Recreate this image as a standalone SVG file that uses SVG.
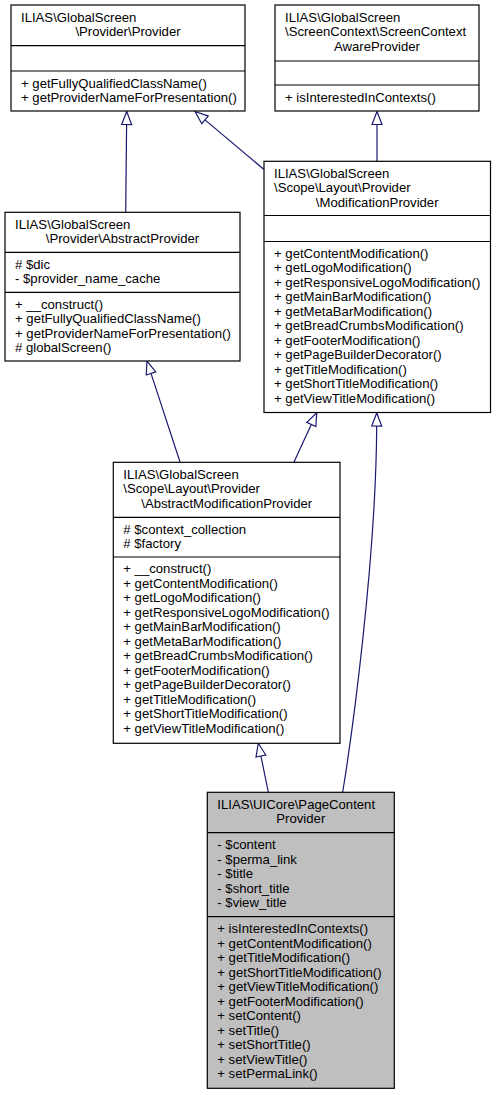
<svg xmlns="http://www.w3.org/2000/svg" width="496" height="1095" viewBox="0 0 496 1095">
<style>
.box{fill:#ffffff;stroke:#000000;stroke-width:1.2}
.cur{fill:#bfbfbf}
.sep{stroke:#000000;stroke-width:1.2}
text{font-family:"Liberation Sans",Arial,Helvetica,sans-serif;font-size:13.15px;fill:#000000}
.c{text-anchor:middle}
.edge{fill:none;stroke:#191970;stroke-width:1.2;marker-end:url(#tri)}
</style>
<defs>
<marker id="tri" markerUnits="userSpaceOnUse" markerWidth="16" markerHeight="14" refX="1" refY="6" orient="auto" viewBox="0 0 16 12">
<path d="M1,1 L14,6 L1,11 Z" fill="#ffffff" stroke="#191970" stroke-width="1.2"/>
</marker>
</defs>
<rect width="496" height="1095" fill="#ffffff"/>
<g id="connectors">
<path class="edge" d="M125.7,212.3 L126.6,124.5"/>
<path class="edge" d="M264,169.5 L205,119.9"/>
<path class="edge" d="M377,161 L377,124.5"/>
<path class="edge" d="M180,462 L151,373.4"/>
<path class="edge" d="M294,462 L311.3,424.5"/>
<path class="edge" d="M342.7,792 C352,735 376,560 376.7,426"/>
<path class="edge" d="M268.3,792 L260.9,756"/>
</g>
<g id="node-provider">
<rect class="box" x="11" y="5" width="234" height="106"/>
<line class="sep" x1="11" y1="45.7" x2="245" y2="45.7"/>
<line class="sep" x1="11" y1="71" x2="245" y2="71"/>
<text x="21" y="21.7">ILIAS\GlobalScreen</text>
<text class="c" x="128" y="36.2">\Provider\Provider</text>
<text x="21" y="87.5">+ getFullyQualifiedClassName()</text>
<text x="21" y="102">+ getProviderNameForPresentation()</text>
</g>
<g id="node-screencontextawareprovider">
<rect class="box" x="275" y="5" width="204" height="106"/>
<line class="sep" x1="275" y1="61" x2="479" y2="61"/>
<line class="sep" x1="275" y1="85" x2="479" y2="85"/>
<text x="285" y="21.7">ILIAS\GlobalScreen</text>
<text x="285" y="36.2">\ScreenContext\ScreenContext</text>
<text class="c" x="377" y="50.7">AwareProvider</text>
<text x="285" y="101.7">+ isInterestedInContexts()</text>
</g>
<g id="node-abstractprovider">
<rect class="box" x="5" y="212.3" width="235" height="148.7"/>
<line class="sep" x1="5" y1="252.3" x2="240" y2="252.3"/>
<line class="sep" x1="5" y1="292.3" x2="240" y2="292.3"/>
<text x="15" y="228.7">ILIAS\GlobalScreen</text>
<text class="c" x="122.5" y="243.2">\Provider\AbstractProvider</text>
<text x="15" y="268.6">#  $dic</text>
<text x="15" y="283.1">- $provider_name_cache</text>
<text x="15" y="308.6">+ __construct()</text>
<text x="15" y="323.1">+ getFullyQualifiedClassName()</text>
<text x="15" y="337.6">+ getProviderNameForPresentation()</text>
<text x="15" y="352.1">#  globalScreen()</text>
</g>
<g id="node-modificationprovider">
<rect class="box" x="264" y="161.3" width="226.5" height="251.2"/>
<line class="sep" x1="264" y1="215.5" x2="490.5" y2="215.5"/>
<line class="sep" x1="264" y1="241.5" x2="490.5" y2="241.5"/>
<text x="274" y="177.6">ILIAS\GlobalScreen</text>
<text x="274" y="192.1">\Scope\Layout\Provider</text>
<text class="c" x="377.2" y="206.6">\ModificationProvider</text>
<text x="274" y="257.8">+ getContentModification()</text>
<text x="274" y="272.3">+ getLogoModification()</text>
<text x="274" y="286.8">+ getResponsiveLogoModification()</text>
<text x="274" y="301.3">+ getMainBarModification()</text>
<text x="274" y="315.8">+ getMetaBarModification()</text>
<text x="274" y="330.3">+ getBreadCrumbsModification()</text>
<text x="274" y="344.8">+ getFooterModification()</text>
<text x="274" y="359.3">+ getPageBuilderDecorator()</text>
<text x="274" y="373.8">+ getTitleModification()</text>
<text x="274" y="388.3">+ getShortTitleModification()</text>
<text x="274" y="402.8">+ getViewTitleModification()</text>
</g>
<g id="node-abstractmodificationprovider">
<rect class="box" x="113.3" y="462.3" width="226.7" height="281"/>
<line class="sep" x1="113.3" y1="517.3" x2="340" y2="517.3"/>
<line class="sep" x1="113.3" y1="557" x2="340" y2="557"/>
<text x="123.3" y="478.6">ILIAS\GlobalScreen</text>
<text x="123.3" y="493.1">\Scope\Layout\Provider</text>
<text class="c" x="226.7" y="507.6">\AbstractModificationProvider</text>
<text x="123.3" y="533.6">#  $context_collection</text>
<text x="123.3" y="548.1">#  $factory</text>
<text x="123.3" y="573.3">+ __construct()</text>
<text x="123.3" y="587.8">+ getContentModification()</text>
<text x="123.3" y="602.3">+ getLogoModification()</text>
<text x="123.3" y="616.8">+ getResponsiveLogoModification()</text>
<text x="123.3" y="631.3">+ getMainBarModification()</text>
<text x="123.3" y="645.8">+ getMetaBarModification()</text>
<text x="123.3" y="660.3">+ getBreadCrumbsModification()</text>
<text x="123.3" y="674.8">+ getFooterModification()</text>
<text x="123.3" y="689.3">+ getPageBuilderDecorator()</text>
<text x="123.3" y="703.8">+ getTitleModification()</text>
<text x="123.3" y="718.3">+ getShortTitleModification()</text>
<text x="123.3" y="732.8">+ getViewTitleModification()</text>
</g>
<g id="node-pagecontentprovider">
<rect class="box cur" x="207.3" y="792.3" width="187" height="296"/>
<line class="sep" x1="207.3" y1="832.7" x2="394.3" y2="832.7"/>
<line class="sep" x1="207.3" y1="916.7" x2="394.3" y2="916.7"/>
<text x="217.3" y="808.6">ILIAS\UICore\PageContent</text>
<text class="c" x="300.8" y="823.1">Provider</text>
<text x="217.3" y="849">- $content</text>
<text x="217.3" y="863.5">- $perma_link</text>
<text x="217.3" y="878">- $title</text>
<text x="217.3" y="892.5">- $short_title</text>
<text x="217.3" y="907">- $view_title</text>
<text x="217.3" y="933">+ isInterestedInContexts()</text>
<text x="217.3" y="947.5">+ getContentModification()</text>
<text x="217.3" y="962">+ getTitleModification()</text>
<text x="217.3" y="976.5">+ getShortTitleModification()</text>
<text x="217.3" y="991">+ getViewTitleModification()</text>
<text x="217.3" y="1005.5">+ getFooterModification()</text>
<text x="217.3" y="1020">+ setContent()</text>
<text x="217.3" y="1034.5">+ setTitle()</text>
<text x="217.3" y="1049">+ setShortTitle()</text>
<text x="217.3" y="1063.5">+ setViewTitle()</text>
<text x="217.3" y="1078">+ setPermaLink()</text>
</g>
</svg>
